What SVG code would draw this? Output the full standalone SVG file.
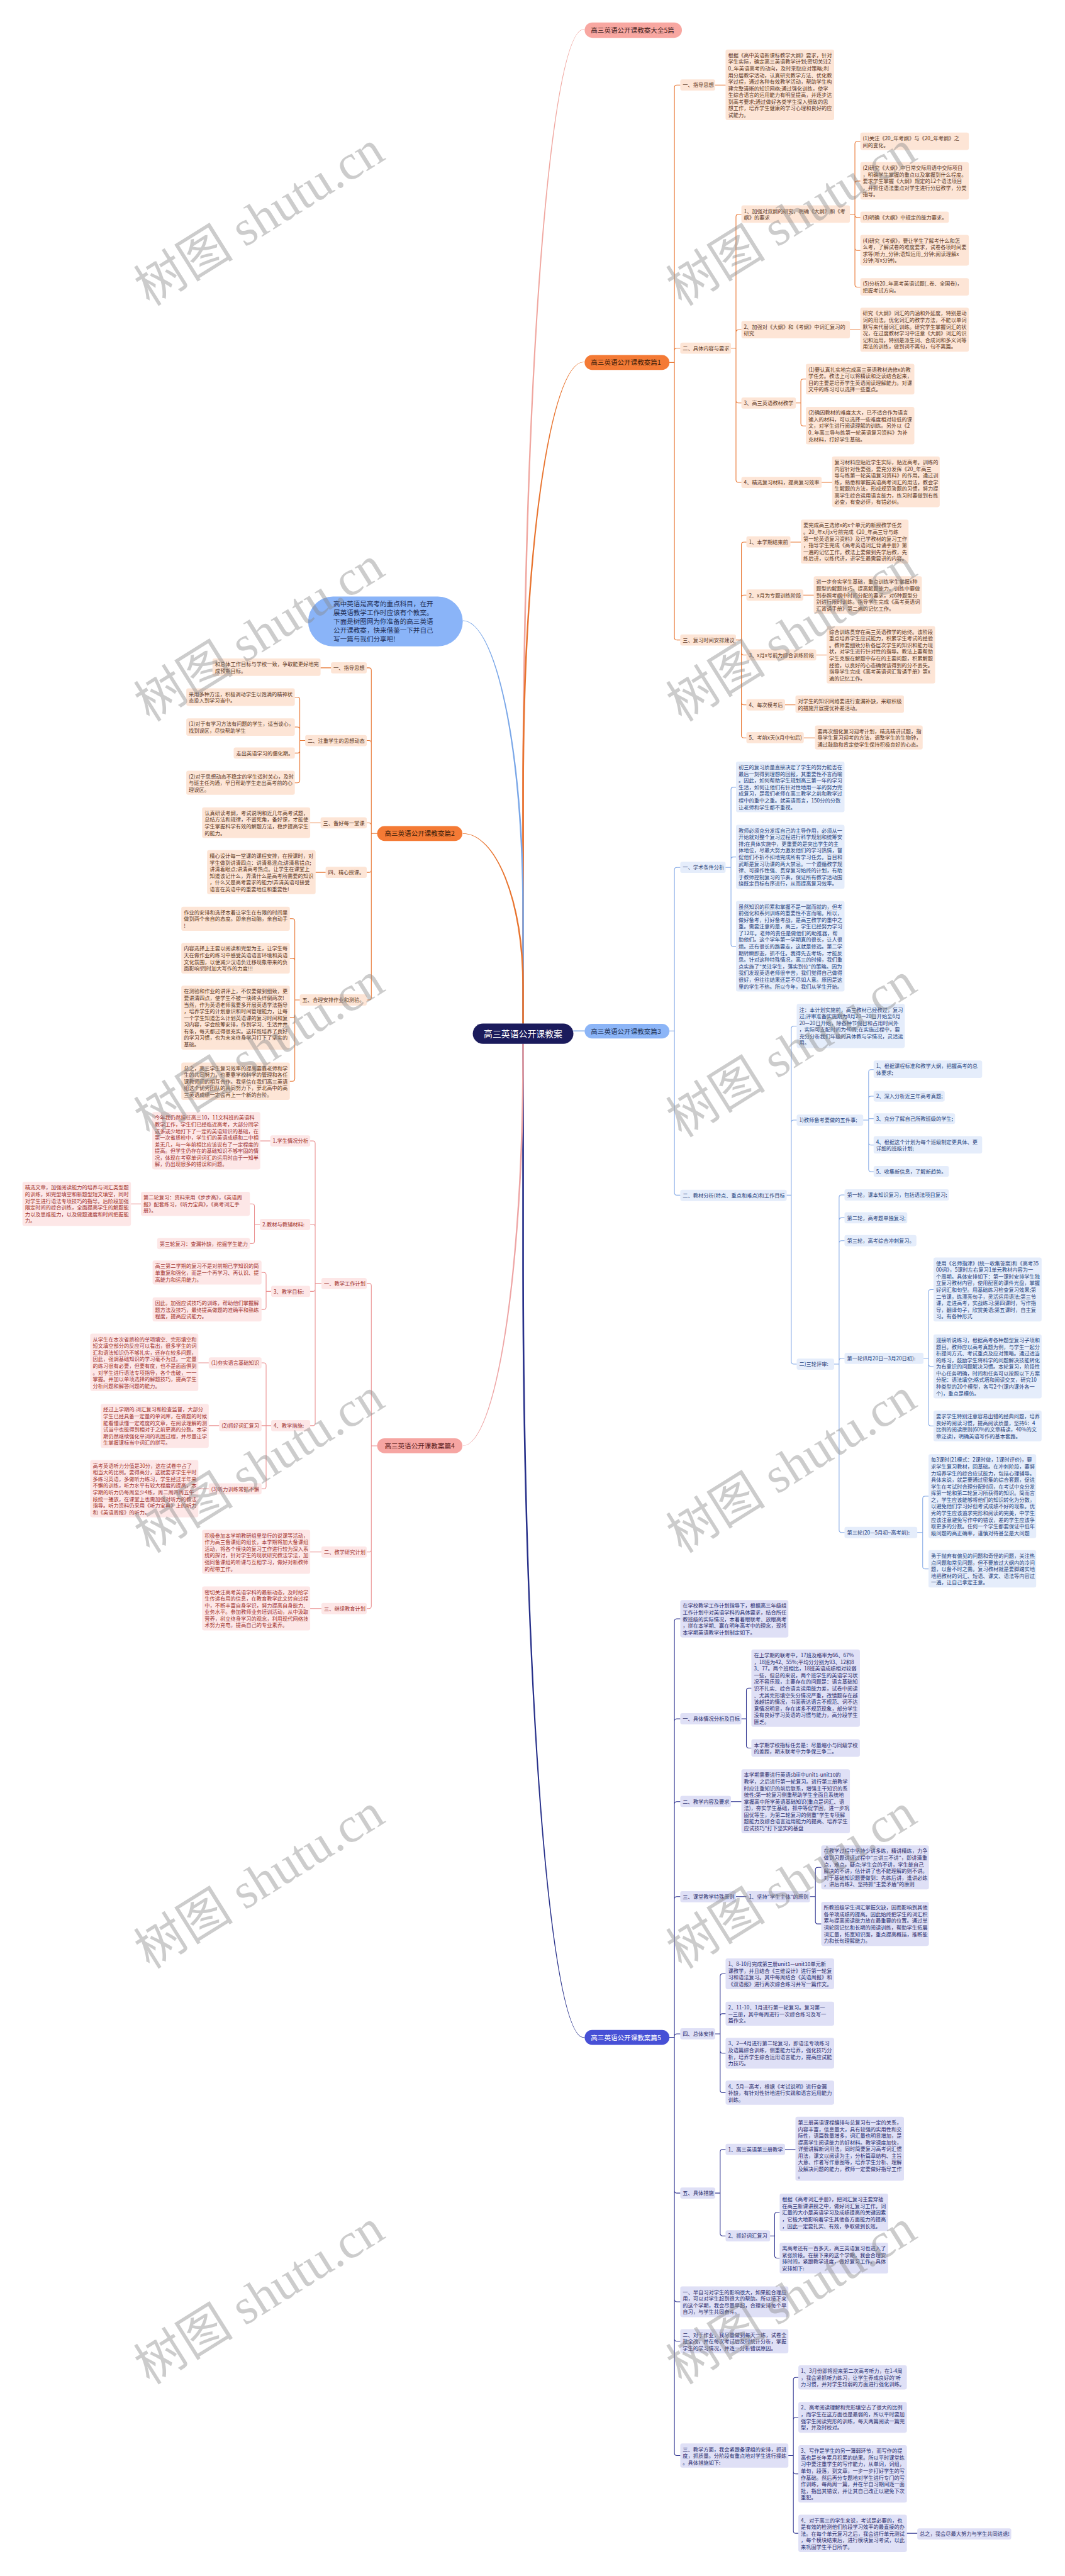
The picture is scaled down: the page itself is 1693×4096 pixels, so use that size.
<svg xmlns="http://www.w3.org/2000/svg" width="1693" height="4096" viewBox="0 0 1693 4096">
<style>
text{font-family:"Noto Sans CJK SC","Noto Sans",sans-serif;font-size:12.5px}
.o rect{fill:#fde5d6}.o text{fill:#5a3522}
.b rect{fill:#e5edfb}.b text{fill:#24407a}
.p rect{fill:#fde7e7}.p text{fill:#a0302c}
.v rect{fill:#dfe0f6}.v text{fill:#262a6b}
.br text{font-size:16px}
.cn path{fill:none;stroke-linecap:round}
.cn path.tp{stroke:none}
.co{stroke:#e8742f;stroke-width:1.6}
.cb{stroke:#84a9e6;stroke-width:1.6}
.cp{stroke:#ea9090;stroke-width:1.6}
.cv{stroke:#2f3491;stroke-width:1.6}
.wm text{font-family:"Liberation Serif","Noto Sans CJK SC",serif;font-size:120px;fill:#888888;opacity:0.42}
</style>
<rect width="1693" height="4096" fill="#ffffff"/>
<g transform="scale(0.661)">
<g id="connectors" class="cn">
<path class="tp" d="M1256 2462V1966A147 1895.5 0 0 1 1403 70.5L1406 70.5L1406 71.5L1403 71.5A143 1894.5 0 0 0 1260 1966V2462Z" style="fill:#f0a7a0"/>
<path class="tp" d="M1256 2462V1900A147 1029.5 0 0 1 1403 870.5L1406 870.5L1406 871.5L1403 871.5A143 1028.5 0 0 0 1260 1900V2462Z" style="fill:#e8742f"/>
<path d="M1379 2480H1406" stroke="#7aa7e8" stroke-width="2"/>
<path class="tp" d="M1256 2511V3027A147 1874.5 0 0 0 1403 4901.5L1406 4901.5L1406 4900.5L1403 4900.5A143 1873.5 0 0 1 1260 3027V2511Z" style="fill:#27308a"/>
<path class="tp" d="M1260 2462V2190A147 697.5 0 0 0 1113 1492.5L1113 1493.5A143 696.5 0 0 1 1256 2190V2462Z" style="fill:#7aa7e8"/>
<path class="tp" d="M1260 2462V2370A147 365.5 0 0 0 1113 2004.5L1113 2005.5A143 364.5 0 0 1 1256 2370V2462Z" style="fill:#e8742f"/>
<path class="tp" d="M1260 2511V2540A147 938.5 0 0 1 1113 3478.5L1113 3477.5A143 937.5 0 0 0 1256 2540V2511Z" style="fill:#eea5a5"/>
<g class="co">
<path d="M1610 872H1622M1622 872V210.5Q1622 204.5 1628 204.5H1636M1622 872V843.5Q1622 837.5 1628 837.5H1636M1622 872V1533.5Q1622 1539.5 1628 1539.5H1636"/>
<path d="M1720 204.5H1745"/>
<path d="M1758 837.5H1770M1770 837.5V521.5Q1770 515.5 1776 515.5H1783M1770 837.5V799.5Q1770 793.5 1776 793.5H1783M1770 837.5V963.5Q1770 969.5 1776 969.5H1783M1770 837.5V1154.5Q1770 1160.5 1776 1160.5H1783"/>
<path d="M2044 515.5H2056M2056 515.5V346.5Q2056 340.5 2062 340.5H2069M2056 515.5V441.5Q2056 435.5 2062 435.5H2069M2056 515.5V517Q2056 523 2062 523H2069M2056 515.5V596.5Q2056 602.5 2062 602.5H2069M2056 515.5V684.5Q2056 690.5 2062 690.5H2069"/>
<path d="M2044 793.5H2069"/>
<path d="M1914 969.5H1926M1926 969.5V918Q1926 912 1932 912H1938M1926 969.5V1018.5Q1926 1024.5 1932 1024.5H1938"/>
<path d="M1976 1160.5H2001"/>
<path d="M1770 1539.5H1783M1783 1539.5V1310Q1783 1304 1789 1304H1795M1783 1539.5V1437.5Q1783 1431.5 1789 1431.5H1795M1783 1539.5V1569.5Q1783 1575.5 1789 1575.5H1795M1783 1539.5V1689.5Q1783 1695.5 1789 1695.5H1795M1783 1539.5V1769Q1783 1775 1789 1775H1795"/>
<path d="M1901 1304H1926M1932 1431.5H1957M1963 1575.5H1988M1888 1695.5H1913M1933 1775H1960"/>
<path d="M907 2005H893M893 2005V1612.5Q893 1606.5 887 1606.5H882M893 2005V1787.5Q893 1781.5 887 1781.5H882M893 2005V1985.5Q893 1979.5 887 1979.5H882M893 2005V2092.5Q893 2098.5 887 2098.5H882M893 2005V2399.5Q893 2405.5 887 2405.5H882"/>
<path d="M796 1606.5H771M771 1979.5H746M783 2098.5H759"/>
<path d="M734 1781.5H721M721 1781.5V1683Q721 1677 715 1677H709M721 1781.5V1755Q721 1749 715 1749H709M721 1781.5V1805.5Q721 1811.5 715 1811.5H709M721 1781.5V1877Q721 1883 715 1883H709"/>
<path d="M721 2405.5H709M709 2405.5V2216Q709 2210 703 2210H697M709 2405.5V2311Q709 2305 703 2305H697M709 2405.5V2442Q709 2448 703 2448H697M709 2405.5V2595Q709 2601 703 2601H697"/>
</g>
<g class="cb">
<path d="M1610 2480H1622M1622 2480V2092.5Q1622 2086.5 1628 2086.5H1636M1622 2480V2869Q1622 2875 1628 2875H1636"/>
<path d="M1745 2086.5H1758M1758 2086.5V1899.5Q1758 1893.5 1764 1893.5H1770M1758 2086.5V2067.5Q1758 2061.5 1764 2061.5H1770M1758 2086.5V2271Q1758 2277 1764 2277H1770"/>
<path d="M1892 2875H1903M1903 2875V2474.5Q1903 2468.5 1909 2468.5H1916M1903 2875V2700.5Q1903 2694.5 1909 2694.5H1916M1903 2875V3275.5Q1903 3281.5 1909 3281.5H1916"/>
<path d="M2076 2694.5H2089M2089 2694.5V2579Q2089 2573 2095 2573H2101M2089 2694.5V2643Q2089 2637 2095 2637H2101M2089 2691H2101M2089 2694.5V2748.5Q2089 2754.5 2095 2754.5H2101M2089 2694.5V2812.5Q2089 2818.5 2095 2818.5H2101"/>
<path d="M2006 3281.5H2018M2018 3281.5V2880.5Q2018 2874.5 2024 2874.5H2031M2018 3281.5V2935.5Q2018 2929.5 2024 2929.5H2031M2018 3281.5V2990.5Q2018 2984.5 2024 2984.5H2031M2018 3281.5V3273.5Q2018 3267.5 2024 3267.5H2031M2018 3281.5V3680.5Q2018 3686.5 2024 3686.5H2031"/>
<path d="M2221 3267.5H2233M2233 3267.5V3108Q2233 3102 2239 3102H2245M2233 3267.5V3281Q2233 3287 2239 3287H2245M2233 3267.5V3424Q2233 3430 2239 3430H2245"/>
<path d="M2206 3686.5H2219M2219 3686.5V3605Q2219 3599 2225 3599H2233M2219 3686.5V3768Q2219 3774 2225 3774H2233"/>
</g>
<g class="cv">
<path d="M1610 4901H1622M1622 4901V3900Q1622 3894 1628 3894H1636M1622 4901V4140.5Q1622 4134.5 1628 4134.5H1636M1622 4901V4340Q1622 4334 1628 4334H1636M1622 4901V4568.5Q1622 4562.5 1628 4562.5H1636M1622 4901V4898.5Q1622 4892.5 1628 4892.5H1636M1622 4901V5269.5Q1622 5275.5 1628 5275.5H1636M1622 4901V5531Q1622 5537 1628 5537H1636M1622 4901V5626Q1622 5632 1628 5632H1636M1622 4901V5901Q1622 5907 1628 5907H1636"/>
<path d="M1783 4134.5H1795M1795 4134.5V4067Q1795 4061 1801 4061H1807M1795 4134.5V4199Q1795 4205 1801 4205H1807"/>
<path d="M1758 4334H1783M1770 4562.5H1795M1888 5170.5H1913M2181 6094H2206"/>
<path d="M1948 4562.5H1961M1961 4562.5V4498Q1961 4492 1967 4492H1975M1961 4562.5V4622Q1961 4628 1967 4628H1975"/>
<path d="M1720 4892.5H1732M1732 4892.5V4754Q1732 4748 1738 4748H1745M1732 4892.5V4850Q1732 4844 1738 4844H1745M1732 4892.5V4933Q1732 4939 1738 4939H1745M1732 4892.5V5028Q1732 5034 1738 5034H1745"/>
<path d="M1720 5275.5H1732M1732 5275.5V5176.5Q1732 5170.5 1738 5170.5H1745M1732 5275.5V5372.5Q1732 5378.5 1738 5378.5H1745"/>
<path d="M1852 5378.5H1863M1863 5378.5V5328Q1863 5322 1869 5322H1875M1863 5378.5V5426Q1863 5432 1869 5432H1875"/>
<path d="M1896 5907H1908M1908 5907V5725Q1908 5719 1914 5719H1920M1908 5907V5821Q1908 5815 1914 5815H1920M1908 5907V5945Q1908 5951 1914 5951H1920M1908 5907V6088Q1908 6094 1914 6094H1920"/>
</g>
<g class="cp">
<path d="M907 3478H893M893 3478V3093Q893 3087 887 3087H882M893 3478V3727.5Q893 3733.5 887 3733.5H882M893 3478V3863.5Q893 3869.5 887 3869.5H882"/>
<path d="M773 3087H758M758 3087V2750.5Q758 2744.5 752 2744.5H746M758 3087V2951.5Q758 2945.5 752 2945.5H746M758 3087V3100.5Q758 3106.5 752 3106.5H746M758 3087V3423.5Q758 3429.5 752 3429.5H746"/>
<path d="M650 2744.5H626M339 2896H315M502 3278.5H477M527 3429.5H502M502 3581.5H477M773 3733.5H746M773 3869.5H746"/>
<path d="M625 2945.5H612M612 2945.5V2902Q612 2896 606 2896H601M612 2945.5V2985.5Q612 2991.5 606 2991.5H601"/>
<path d="M652 3106.5H640M640 3106.5V3067Q640 3061 634 3061H629M640 3106.5V3144Q640 3150 634 3150H629"/>
<path d="M652 3429.5H640M640 3429.5V3284.5Q640 3278.5 634 3278.5H629M640 3429.5H629M640 3429.5V3575.5Q640 3581.5 634 3581.5H629"/>
</g>
</g>

<g id="center"><rect x="1137" y="2462" width="242" height="49" rx="24.5" fill="#1b1b5c"/><text x="1258" y="2494" text-anchor="middle" style="font-size:21px" fill="#ffffff">高三英语公开课教案</text></g>
<g id="intro"><rect x="741" y="1435" width="372" height="120" rx="60" fill="#8ab4f8"/><text style="font-size:16px" fill="#1f2f55"><tspan x="802" y="1458">高中英语是高考的重点科目，在开</tspan><tspan x="802" dy="21.3">展英语教学工作时应该有个教案。</tspan><tspan x="802" dy="21.3">下面是树图网为你准备的高三英语</tspan><tspan x="802" dy="21.3">公开课教案，快来借鉴一下并自己</tspan><tspan x="802" dy="21.3">写一篇与我们分享吧!</tspan></text></g>

<g id="b0" class="br"><rect x="1406" y="54" width="234" height="37" rx="18.5" fill="#f8a7a1"/><text x="1421" y="78.5" fill="#3d1d1d">高三英语公开课教案大全5篇</text></g>
<g id="b1" class="br"><rect x="1406" y="854" width="204" height="36" rx="18" fill="#f47a35"/><text x="1421" y="878" fill="#3b1a08">高三英语公开课教案篇1</text></g>
<g id="b2" class="br"><rect x="907" y="1987" width="205" height="36" rx="18" fill="#f47a35"/><text x="925" y="2011" fill="#3b1a08">高三英语公开课教案篇2</text></g>
<g id="b3" class="br"><rect x="1406" y="2463" width="204" height="35" rx="17.5" fill="#8cb5f7"/><text x="1421" y="2486.5" fill="#1d3358">高三英语公开课教案篇3</text></g>
<g id="b4" class="br"><rect x="907" y="3460" width="205" height="36" rx="18" fill="#f6a5a2"/><text x="925" y="3484" fill="#5a1a1a">高三英语公开课教案篇4</text></g>
<g id="b5" class="br"><rect x="1406" y="4883" width="204" height="36" rx="18" fill="#4750d6"/><text x="1421" y="4907" fill="#ffffff">高三英语公开课教案篇5</text></g>

<g id="p1">
<g id="n1a" class="o"><rect x="1636" y="191" width="84" height="27" rx="5"/><text x="1642" y="209.5">一、指导思想</text></g>
<g id="n1a1" class="o"><rect x="1745" y="119" width="261" height="170" rx="5"/><text><tspan x="1751" y="137.5">根据《高中英语新课标教学大纲》要求，针对</tspan><tspan x="1751" dy="16">学生实际，确定高三英语教学计划;密切关注2</tspan><tspan x="1751" dy="16">0_年英语高考的动向，及时采取应对策略;利</tspan><tspan x="1751" dy="16">用分层教学活动，认真研究教学方法、优化教</tspan><tspan x="1751" dy="16">学过程，通过各种有效教学活动，帮助学生构</tspan><tspan x="1751" dy="16">建完整清晰的知识网络;通过强化训练，使学</tspan><tspan x="1751" dy="16">生综合语言的运用能力有明显提高，并逐步达</tspan><tspan x="1751" dy="16">到高考要求;通过做好各类学生深入细致的思</tspan><tspan x="1751" dy="16">想工作，培养学生健康的学习心理和良好的应</tspan><tspan x="1751" dy="16">试能力。</tspan></text></g>
<g id="n1b" class="o"><rect x="1636" y="824" width="122" height="27" rx="5"/><text x="1642" y="842.5">二、具体内容与要求</text></g>
<g id="n1b1" class="o"><rect x="1783" y="494" width="261" height="42" rx="5"/><text><tspan x="1789" y="512.5">1、加强对双纲的研究，明确《大纲》和《考</tspan><tspan x="1789" dy="16">纲》的要求</tspan></text></g>
<g id="n1b1a" class="o"><rect x="2069" y="319" width="261" height="42" rx="5"/><text><tspan x="2075" y="337.5">(1)关注《20_年考纲》与《20_年考纲》之</tspan><tspan x="2075" dy="16">间的变化。</tspan></text></g>
<g id="n1b1b" class="o"><rect x="2069" y="390" width="261" height="90" rx="5"/><text><tspan x="2075" y="408.5">(2)研究《大纲》中日常交际用语中交际项目</tspan><tspan x="2075" dy="16">，明确学生掌握的重点以及掌握到什么程度。</tspan><tspan x="2075" dy="16">要求学生掌握《大纲》规定的12个语法项目</tspan><tspan x="2075" dy="16">，并抓住语法重点对学生进行分层教学，分类</tspan><tspan x="2075" dy="16">指导。</tspan></text></g>
<g id="n1b1c" class="o"><rect x="2069" y="509" width="213" height="27" rx="5"/><text x="2075" y="527.5">(3)明确《大纲》中规定的能力要求。</text></g>
<g id="n1b1d" class="o"><rect x="2069" y="565" width="261" height="74" rx="5"/><text><tspan x="2075" y="583.5">(4)研究《考纲》，要让学生了解考什么和怎</tspan><tspan x="2075" dy="16">么考，了解试卷的难度要求，试卷各项时间要</tspan><tspan x="2075" dy="16">求等(听力_分钟;语知运用_分钟;阅读理解x</tspan><tspan x="2075" dy="16">分钟;写x分钟)。</tspan></text></g>
<g id="n1b1e" class="o"><rect x="2069" y="669" width="261" height="42" rx="5"/><text><tspan x="2075" y="687.5">(5)分析20_年高考英语试题(_卷、全国卷)，</tspan><tspan x="2075" dy="16">把握考试方向。</tspan></text></g>
<g id="n1b2" class="o"><rect x="1783" y="772" width="261" height="42" rx="5"/><text><tspan x="1789" y="790.5">2、加强对《大纲》和《考纲》中词汇复习的</tspan><tspan x="1789" dy="16">研究</tspan></text></g>
<g id="n1b2a" class="o"><rect x="2069" y="740" width="261" height="106" rx="5"/><text><tspan x="2075" y="758.5">研究《大纲》词汇的内涵和外延度，特别是动</tspan><tspan x="2075" dy="16">词的用法。优化词汇的教学方法，不能以单词</tspan><tspan x="2075" dy="16">默写来代替词汇训练。研究学生掌握词汇的状</tspan><tspan x="2075" dy="16">况，在过度教材学习中注意《大纲》词汇的识</tspan><tspan x="2075" dy="16">记和运用，特别是派生词、合成词和多义词等</tspan><tspan x="2075" dy="16">用法的训练，做到词不离句，句不离篇。</tspan></text></g>
<g id="n1b3" class="o"><rect x="1783" y="956" width="131" height="27" rx="5"/><text x="1789" y="974.5">3、高三英语教材教学</text></g>
<g id="n1b3a" class="o"><rect x="1938" y="875" width="261" height="74" rx="5"/><text><tspan x="1944" y="893.5">(1)要认真扎实地完成高三英语教材选修x的教</tspan><tspan x="1944" dy="16">学任务。教法上可以将精读和泛读结合起来，</tspan><tspan x="1944" dy="16">目的主要是培养学生英语阅读理解能力。对课</tspan><tspan x="1944" dy="16">文中的练习可以选择一些重点。</tspan></text></g>
<g id="n1b3b" class="o"><rect x="1938" y="979" width="261" height="90" rx="5"/><text><tspan x="1944" y="997.5">(2)确因教材的难度太大，已不适合作为语言</tspan><tspan x="1944" dy="16">输入的材料，可以选择一些难度相对较低的课</tspan><tspan x="1944" dy="16">文，对学生进行阅读理解的训练。另外以《2</tspan><tspan x="1944" dy="16">0_年高三导与练第一轮英语复习资料》为补</tspan><tspan x="1944" dy="16">充材料，打好学生基础。</tspan></text></g>
<g id="n1b4" class="o"><rect x="1783" y="1147" width="193" height="27" rx="5"/><text x="1789" y="1165.5">4、精选复习材料，提高复习效率</text></g>
<g id="n1b4a" class="o"><rect x="2001" y="1098" width="259" height="122" rx="5"/><text><tspan x="2007" y="1116.5">复习材料应贴近学生实际，贴近高考。训练的</tspan><tspan x="2007" dy="16">内容针对性要强，要充分发挥《20_年高三</tspan><tspan x="2007" dy="16">导与练第一轮英语复习资料》的作用。通过训</tspan><tspan x="2007" dy="16">练，熟悉和掌握英语高考词汇的用法，教会学</tspan><tspan x="2007" dy="16">生解题的方法，形成规范答题的习惯，努力提</tspan><tspan x="2007" dy="16">高学生综合运用语言能力，练习时要做到有练</tspan><tspan x="2007" dy="16">必查，有查必评，有错必纠。</tspan></text></g>
<g id="n1c" class="o"><rect x="1636" y="1526" width="134" height="27" rx="5"/><text x="1642" y="1544.5">三、复习时间安排建议</text></g>
<g id="n1c1" class="o"><rect x="1795" y="1290" width="106" height="27" rx="5"/><text x="1801" y="1308.5">1、本学期结束前</text></g>
<g id="n1c1a" class="o"><rect x="1926" y="1250" width="259" height="106" rx="5"/><text><tspan x="1932" y="1268.5">要完成高三选修x的x个单元的新授教学任务</tspan><tspan x="1932" dy="16">。20_年x月x号前完成《20_年高三导与练</tspan><tspan x="1932" dy="16">第一轮英语复习资料》及已学教材的复习工作</tspan><tspan x="1932" dy="16">，指导学生完成《高考英语词汇背诵手册》第</tspan><tspan x="1932" dy="16">一遍的记忆工作。教法上要做到先学后教，先</tspan><tspan x="1932" dy="16">练后讲，以练代讲，讲学生最需要讲的内容。</tspan></text></g>
<g id="n1c2" class="o"><rect x="1795" y="1418" width="137" height="27" rx="5"/><text x="1801" y="1436.5">2、x月为专题训练阶段</text></g>
<g id="n1c2a" class="o"><rect x="1957" y="1386" width="260" height="90" rx="5"/><text><tspan x="1963" y="1404.5">进一步夯实学生基础，重点训练学生掌握x种</tspan><tspan x="1963" dy="16">题型的解题技巧，提高解题能力。训练中要做</tspan><tspan x="1963" dy="16">到参照考纲中时间分配的要求，对6种题型分</tspan><tspan x="1963" dy="16">别进行限时训练。指导学生完成《高考英语词</tspan><tspan x="1963" dy="16">汇背诵手册》第二遍的记忆工作。</tspan></text></g>
<g id="n1c3" class="o"><rect x="1795" y="1562" width="168" height="27" rx="5"/><text x="1801" y="1580.5">3、x月x号前为综合训练阶段</text></g>
<g id="n1c3a" class="o"><rect x="1988" y="1506" width="261" height="138" rx="5"/><text><tspan x="1994" y="1524.5">综合训练贯穿在高三英语教学的始终。该阶段</tspan><tspan x="1994" dy="16">重点培养学生应试能力，积累学生考试的经验</tspan><tspan x="1994" dy="16">。教师要细致分析各层次学生的知识和能力现</tspan><tspan x="1994" dy="16">状，对学生进行针对性的指导。教法上要帮助</tspan><tspan x="1994" dy="16">学生克服在解题中存在的主要问题，积累解题</tspan><tspan x="1994" dy="16">经验，以良好的心态确保该得到的分不丢失。</tspan><tspan x="1994" dy="16">指导学生完成《高考英语词汇背诵手册》第x</tspan><tspan x="1994" dy="16">遍的记忆工作。</tspan></text></g>
<g id="n1c4" class="o"><rect x="1795" y="1682" width="93" height="27" rx="5"/><text x="1801" y="1700.5">4、每次模考后</text></g>
<g id="n1c4a" class="o"><rect x="1913" y="1673" width="261" height="42" rx="5"/><text><tspan x="1919" y="1691.5">对学生的知识网络要进行查漏补缺，采取积极</tspan><tspan x="1919" dy="16">的措施开展提优补差活动。</tspan></text></g>
<g id="n1c5" class="o"><rect x="1795" y="1761" width="138" height="27" rx="5"/><text x="1801" y="1779.5">5、考前x天(x月中旬后)</text></g>
<g id="n1c5a" class="o"><rect x="1960" y="1745" width="259" height="58" rx="5"/><text><tspan x="1966" y="1763.5">要再次细化复习迎考计划，精选精讲试题，指</tspan><tspan x="1966" dy="16">导学生复习迎考的方法，调整学生的生物钟，</tspan><tspan x="1966" dy="16">通过鼓励和肯定使学生保持积极良好的心态。</tspan></text></g>
</g>

<g id="p3">
<g id="n3a" class="b"><rect x="1636" y="2073" width="109" height="27" rx="5"/><text x="1642" y="2091.5">一、学术条件分析</text></g>
<g id="n3a1" class="b"><rect x="1770" y="1832" width="261" height="122" rx="5"/><text><tspan x="1776" y="1850.5">初三的复习质量直接决定了学生的努力能否在</tspan><tspan x="1776" dy="16">最后一刻得到理想的回报，其重要性不言而喻</tspan><tspan x="1776" dy="16">。因此，如何帮助学生规划高三第一年的学习</tspan><tspan x="1776" dy="16">生活，如何让他们有针对性地用一半的努力完</tspan><tspan x="1776" dy="16">成复习，是我们老师在高三教学之前和教学过</tspan><tspan x="1776" dy="16">程中的重中之重。就英语而言，150分的分数</tspan><tspan x="1776" dy="16">让老师和学生都不重视。</tspan></text></g>
<g id="n3a2" class="b"><rect x="1770" y="1984" width="261" height="154" rx="5"/><text><tspan x="1776" y="2002.5">教师必须充分发挥自己的主导作用，必须从一</tspan><tspan x="1776" dy="16">开始就对整个复习过程进行科学规划和统筹安</tspan><tspan x="1776" dy="16">排;在具体实施中，更重要的是突出学生的主</tspan><tspan x="1776" dy="16">体地位，尽最大努力激发他们的学习热情，督</tspan><tspan x="1776" dy="16">促他们不折不扣地完成所有学习任务。盲目和</tspan><tspan x="1776" dy="16">武断是复习功课的两大禁忌。一个遵循教学规</tspan><tspan x="1776" dy="16">律、可操作性强、贯穿复习始终的计划，有助</tspan><tspan x="1776" dy="16">于教师控制复习的节奏，保证所有教学活动围</tspan><tspan x="1776" dy="16">绕既定目标有序进行，从而提高复习效率。</tspan></text></g>
<g id="n3a3" class="b"><rect x="1770" y="2167" width="261" height="218" rx="5"/><text><tspan x="1776" y="2185.5">虽然知识的积累和掌握不是一蹴而就的，但考</tspan><tspan x="1776" dy="16">前强化和系列训练的重要性不言而喻。所以，</tspan><tspan x="1776" dy="16">做好备考，打好备考战，是高三教学的重中之</tspan><tspan x="1776" dy="16">重。需要注意的是，高三，学生已经努力学习</tspan><tspan x="1776" dy="16">了12年。老师的责任是做他们的助推器，帮</tspan><tspan x="1776" dy="16">助他们。这个学年第一学期真的很长，让人很</tspan><tspan x="1776" dy="16">烦。还有很长的路要走，这就是修远。第二学</tspan><tspan x="1776" dy="16">期转瞬即逝，抓不住。我得先去考场，才能反</tspan><tspan x="1776" dy="16">思。针对这种特殊情况，高三的时候，我们重</tspan><tspan x="1776" dy="16">点实施了&quot;关注学生，落实到位&quot;的策略。因为</tspan><tspan x="1776" dy="16">我们发现英语老师很辛苦，我们觉得自己做得</tspan><tspan x="1776" dy="16">很好，但往往结果还是不尽如人意。原因是这</tspan><tspan x="1776" dy="16">里的学生不热。所以今年，我们从学生开始。</tspan></text></g>
<g id="n3b" class="b"><rect x="1636" y="2862" width="256" height="27" rx="5"/><text x="1642" y="2880.5">二、教材分析(特点、重点和难点)和工作目标</text></g>
<g id="n3b1" class="b"><rect x="1916" y="2415" width="260" height="106" rx="5"/><text><tspan x="1922" y="2433.5">注：本计划实施前，高三教材已经教过，复习</tspan><tspan x="1922" dy="16">过;评审准备实施期为8月20—20日开始至6月</tspan><tspan x="1922" dy="16">20—20日开始，除各种节假日和占用时间外</tspan><tspan x="1922" dy="16">，实际可支配时间为40周;在实施过程中，要</tspan><tspan x="1922" dy="16">充分分析我们年级的具体教与学情况，灵活运</tspan><tspan x="1922" dy="16">用。</tspan></text></g>
<g id="n3b2" class="b"><rect x="1916" y="2681" width="160" height="27" rx="5"/><text x="1922" y="2699.5">1)教师备考要做的五件事;</text></g>
<g id="n3b2a" class="b"><rect x="2101" y="2551" width="261" height="42" rx="5"/><text><tspan x="2107" y="2569.5">1、根据课程标准和教学大纲，把握高考的总</tspan><tspan x="2107" dy="16">体要求;</tspan></text></g>
<g id="n3b2b" class="b"><rect x="2101" y="2624" width="171" height="26" rx="5"/><text x="2107" y="2642">2、深入分析近三年高考真题;</text></g>
<g id="n3b2c" class="b"><rect x="2101" y="2678" width="196" height="26" rx="5"/><text x="2107" y="2696">3、充分了解自己所教班级的学生;</text></g>
<g id="n3b2d" class="b"><rect x="2101" y="2733" width="261" height="42" rx="5"/><text><tspan x="2107" y="2751.5">4、根据这个计划为每个班级制定更具体、更</tspan><tspan x="2107" dy="16">详细的班级计划;</tspan></text></g>
<g id="n3b2e" class="b"><rect x="2101" y="2805" width="181" height="26" rx="5"/><text x="2107" y="2823">5、收集新信息，了解新趋势。</text></g>
<g id="n3b3" class="b"><rect x="1916" y="3268" width="90" height="27" rx="5"/><text x="1922" y="3286.5">二)三轮评审:</text></g>
<g id="n3b3a" class="b"><rect x="2031" y="2861" width="251" height="27" rx="5"/><text x="2037" y="2879.5">第一轮，课本知识复习，包括语法项目复习;</text></g>
<g id="n3b3b" class="b"><rect x="2031" y="2916" width="151" height="27" rx="5"/><text x="2037" y="2934.5">第二轮，高考题单独复习;</text></g>
<g id="n3b3c" class="b"><rect x="2031" y="2971" width="173" height="27" rx="5"/><text x="2037" y="2989.5">第三轮，高考综合冲刺复习。</text></g>
<g id="n3b3d" class="b"><rect x="2031" y="3254" width="190" height="27" rx="5"/><text x="2037" y="3272.5">第一轮(8月20日—3月20日初):</text></g>
<g id="n3b3d1" class="b"><rect x="2245" y="3025" width="260" height="154" rx="5"/><text><tspan x="2251" y="3043.5">使用《名师指津》(统一收集答案)和《高考35</tspan><tspan x="2251" dy="16">00词》，5课时左右复习1单元教材内容为一</tspan><tspan x="2251" dy="16">个周期。具体安排如下：第一课时安排学生独</tspan><tspan x="2251" dy="16">立复习教材内容，使用配套的课件光盘，掌握</tspan><tspan x="2251" dy="16">好词汇和句型。用基础练习检查复习效果;第</tspan><tspan x="2251" dy="16">二节课，练漂亮句子，灵活运用语法;第三节</tspan><tspan x="2251" dy="16">课，走进高考，实战练习;第四课时，写作指</tspan><tspan x="2251" dy="16">导，翻译句子，欣赏美语;第五课时，自主复</tspan><tspan x="2251" dy="16">习。有各种形式</tspan></text></g>
<g id="n3b3d2" class="b"><rect x="2245" y="3210" width="260" height="154" rx="5"/><text><tspan x="2251" y="3228.5">迎接听说练习，根据高考各种题型复习子项和</tspan><tspan x="2251" dy="16">题目。教师应以高考真题为例，与学生一起分</tspan><tspan x="2251" dy="16">析提问方式、考试重点及应对策略。通过适当</tspan><tspan x="2251" dy="16">的练习，鼓励学生将科学的问题解决技能转化</tspan><tspan x="2251" dy="16">为有意识的问题解决习惯。本轮复习，阶段性</tspan><tspan x="2251" dy="16">中心任务明确，时间和任务可以按照以下方案</tspan><tspan x="2251" dy="16">分配：语法填空;格式塔和阅读交叉，研究10</tspan><tspan x="2251" dy="16">种类型的20个模型，各写2个(课内课外各一</tspan><tspan x="2251" dy="16">个)，重点是模仿。</tspan></text></g>
<g id="n3b3d3" class="b"><rect x="2245" y="3393" width="260" height="74" rx="5"/><text><tspan x="2251" y="3411.5">要求学生特别注意容易出错的经典问题，培养</tspan><tspan x="2251" dy="16">良好的阅读习惯，提高阅读质量，坚持6：4</tspan><tspan x="2251" dy="16">比例的阅读原则(60%的文章精读，40%的文</tspan><tspan x="2251" dy="16">章泛读)，明确英语写作的基本套路。</tspan></text></g>
<g id="n3b3e" class="b"><rect x="2031" y="3673" width="175" height="27" rx="5"/><text x="2037" y="3691.5">第三轮(20—5月初~高考前):</text></g>
<g id="n3b3e1" class="b"><rect x="2233" y="3498" width="259" height="202" rx="5"/><text><tspan x="2239" y="3516.5">每3课时(21模式：2课时做，1课时评价)，要</tspan><tspan x="2239" dy="16">求学生复习教材，回基础。在冲刺阶段，要努</tspan><tspan x="2239" dy="16">力培养学生的综合应试能力，包括心理辅导。</tspan><tspan x="2239" dy="16">具体来说，就是要通过密集的综合套题，促进</tspan><tspan x="2239" dy="16">学生在考试时合理分配时间，在考试中充分发</tspan><tspan x="2239" dy="16">挥第一轮和第二轮复习所获得的知识。简而言</tspan><tspan x="2239" dy="16">之，学生应该能够将他们的知识转化为分数，</tspan><tspan x="2239" dy="16">以避免他们学习好但考试成绩不好的现象。优</tspan><tspan x="2239" dy="16">秀的学生应该追求完形和阅读的完美，中学生</tspan><tspan x="2239" dy="16">应该注意避免写作中的错误，差的学生应该争</tspan><tspan x="2239" dy="16">取更多的分数。任何一个学生都要保证中低年</tspan><tspan x="2239" dy="16">级问题的高正确率，谨慎对待甚至是大问题</tspan></text></g>
<g id="n3b3e2" class="b"><rect x="2233" y="3729" width="259" height="90" rx="5"/><text><tspan x="2239" y="3747.5">勇于抛弃有偏见的问题和奇怪的问题，关注热</tspan><tspan x="2239" dy="16">点问题和常见问题，但不要放过大纲内的冷问</tspan><tspan x="2239" dy="16">题，以备不时之需。复习教材就是要脚踏实地</tspan><tspan x="2239" dy="16">地把教材的词汇、短语、课文、语法等内容过</tspan><tspan x="2239" dy="16">一遍，让自己拿定主意。</tspan></text></g>
</g>

<g id="p5">
<g id="n5a" class="v"><rect x="1636" y="3849" width="260" height="90" rx="5"/><text><tspan x="1642" y="3867.5">在学校教学工作计划指导下，根据高三年级组</tspan><tspan x="1642" dy="16">工作计划中对英语学科的具体要求，结合所任</tspan><tspan x="1642" dy="16">教班级的实际情况，本着着眼联考、放眼高考</tspan><tspan x="1642" dy="16">，拼在本学期、赢在明年高考中的理念，现将</tspan><tspan x="1642" dy="16">本学期英语教学计划制定如下。</tspan></text></g>
<g id="n5b" class="v"><rect x="1636" y="4121" width="147" height="27" rx="5"/><text x="1642" y="4139.5">一、具体情况分析及目标</text></g>
<g id="n5b1" class="v"><rect x="1807" y="3968" width="261" height="186" rx="5"/><text><tspan x="1813" y="3986.5">在上学期的联考中，17班及格率为66、67%</tspan><tspan x="1813" dy="16">，18班为42、55%;平均分分别为93、12和8</tspan><tspan x="1813" dy="16">3、77。两个班相比，18班英语成绩相对较弱</tspan><tspan x="1813" dy="16">一些，但总的来说，两个班学生的英语学习状</tspan><tspan x="1813" dy="16">况不容乐观，主要存在的问题是：语言基础知</tspan><tspan x="1813" dy="16">识不扎实、综合语言运用能力差，试卷中阅读</tspan><tspan x="1813" dy="16">、尤其完形填空失分情况严重，改错题存在越</tspan><tspan x="1813" dy="16">该越错的情况，书面表达语言不规范、词不达</tspan><tspan x="1813" dy="16">意情况明显，存在诸多不规范现象，部分学生</tspan><tspan x="1813" dy="16">没有良好学习英语的习惯与能力，高分段学生</tspan><tspan x="1813" dy="16">匮乏。</tspan></text></g>
<g id="n5b2" class="v"><rect x="1807" y="4184" width="261" height="42" rx="5"/><text><tspan x="1813" y="4202.5">本学期学校指标任务是：尽量缩小与同级学校</tspan><tspan x="1813" dy="16">的差距，期末联考中力争保三争二。</tspan></text></g>
<g id="n5c" class="v"><rect x="1636" y="4320" width="122" height="27" rx="5"/><text x="1642" y="4338.5">二、教学内容及要求</text></g>
<g id="n5c1" class="v"><rect x="1783" y="4256" width="261" height="154" rx="5"/><text><tspan x="1789" y="4274.5">本学期需要进行英语sbiii中unit1-unit10的</tspan><tspan x="1789" dy="16">教学，之后进行第一轮复习。进行第三册教学</tspan><tspan x="1789" dy="16">时应注重知识的前后联系，增强主干知识的系</tspan><tspan x="1789" dy="16">统性;第一轮复习侧重帮助学生全面且系统地</tspan><tspan x="1789" dy="16">掌握高中所学英语基础知识(重点是词汇、语</tspan><tspan x="1789" dy="16">法)，夯实学生基础，抓中等促学困，进一步巩</tspan><tspan x="1789" dy="16">固优等生，为第二轮复习的侧重&quot;学生专项解</tspan><tspan x="1789" dy="16">题能力及综合语言运用能力的提高、培养学生</tspan><tspan x="1789" dy="16">应试技巧&quot;打下坚实的基盘</tspan></text></g>
<g id="n5d" class="v"><rect x="1636" y="4549" width="134" height="27" rx="5"/><text x="1642" y="4567.5">三、课堂教学特殊原则</text></g>
<g id="n5d1" class="v"><rect x="1795" y="4549" width="153" height="27" rx="5"/><text x="1801" y="4567.5">1、坚持&quot;学生主体&quot;的原则</text></g>
<g id="n5d1a" class="v"><rect x="1975" y="4439" width="259" height="106" rx="5"/><text><tspan x="1981" y="4457.5">在教学过程中坚持少讲多练，精讲精练，力争</tspan><tspan x="1981" dy="16">做到习题讲评过程中&quot;三讲三不讲&quot;，即讲清重</tspan><tspan x="1981" dy="16">点，难点，疑点;学生会的不讲，学生能自己</tspan><tspan x="1981" dy="16">解决的不讲，估计讲了也不能理解的则不讲。</tspan><tspan x="1981" dy="16">对于基础知识题要做到：先练后讲，逢讲必练</tspan><tspan x="1981" dy="16">，讲后再练2、坚持抓&quot;主要矛盾&quot;的原则</tspan></text></g>
<g id="n5d1b" class="v"><rect x="1975" y="4575" width="259" height="106" rx="5"/><text><tspan x="1981" y="4593.5">所教班级学生词汇掌握欠缺，因而影响到其他</tspan><tspan x="1981" dy="16">各单项成绩的提高。因此始终把学生的词汇积</tspan><tspan x="1981" dy="16">累与提高阅读能力放在最重要的位置。通过单</tspan><tspan x="1981" dy="16">词轮回记忆和长期的阅读训练，帮助学生拓展</tspan><tspan x="1981" dy="16">词汇量，拓宽知识面，重点提高概括，推断能</tspan><tspan x="1981" dy="16">力和长句理解能力。</tspan></text></g>
<g id="n5e" class="v"><rect x="1636" y="4879" width="84" height="27" rx="5"/><text x="1642" y="4897.5">四、总体安排</text></g>
<g id="n5e1" class="v"><rect x="1745" y="4711" width="261" height="74" rx="5"/><text><tspan x="1751" y="4729.5">1、8-10月完成第三册unit1—unit10单元新</tspan><tspan x="1751" dy="16">课教学，并且结合《三维设计》进行第一轮复</tspan><tspan x="1751" dy="16">习和语法复习。其中每周结合《英语周报》和</tspan><tspan x="1751" dy="16">《双语报》进行两次综合练习并写一篇作文。</tspan></text></g>
<g id="n5e2" class="v"><rect x="1745" y="4815" width="261" height="58" rx="5"/><text><tspan x="1751" y="4833.5">2、11-10、1月进行第一轮复习。复习第一</tspan><tspan x="1751" dy="16">—三册，其中每周进行一次综合练习及写一</tspan><tspan x="1751" dy="16">篇作文。</tspan></text></g>
<g id="n5e3" class="v"><rect x="1745" y="4902" width="261" height="74" rx="5"/><text><tspan x="1751" y="4920.5">3、2—4月进行第二轮复习，即语法专项练习</tspan><tspan x="1751" dy="16">及语篇综合训练，侧重能力培养，强化技巧分</tspan><tspan x="1751" dy="16">析，培养学生综合运用语言能力，提高应试能</tspan><tspan x="1751" dy="16">力技巧。</tspan></text></g>
<g id="n5e4" class="v"><rect x="1745" y="5005" width="261" height="58" rx="5"/><text><tspan x="1751" y="5023.5">4、5月—高考，根据《考试说明》进行查漏</tspan><tspan x="1751" dy="16">补缺，有针对性针地进行实践和语言运用能力</tspan><tspan x="1751" dy="16">训练。</tspan></text></g>
<g id="n5f" class="v"><rect x="1636" y="5262" width="84" height="27" rx="5"/><text x="1642" y="5280.5">五、具体措施</text></g>
<g id="n5f1" class="v"><rect x="1745" y="5157" width="143" height="27" rx="5"/><text x="1751" y="5175.5">1、高三英语第三册教学</text></g>
<g id="n5f1a" class="v"><rect x="1913" y="5092" width="261" height="154" rx="5"/><text><tspan x="1919" y="5110.5">第三册英语课程编排与总复习有一定的关系，</tspan><tspan x="1919" dy="16">内容丰富，信息量大，具有较强的实用性和交</tspan><tspan x="1919" dy="16">际性，语篇数量增多，词汇量也明显增加，是</tspan><tspan x="1919" dy="16">提高学生阅读能力的好材料。教学速度加快，</tspan><tspan x="1919" dy="16">详细讲解新词用法，同时简要复习高考词汇惯</tspan><tspan x="1919" dy="16">用法，课文以阅读为主，分析篇章结构、主旨</tspan><tspan x="1919" dy="16">大意、作者写作意图等，培养学生分析、理解</tspan><tspan x="1919" dy="16">及解决问题的能力，教师一定要做好指导工作</tspan><tspan x="1919" dy="16">。</tspan></text></g>
<g id="n5f2" class="v"><rect x="1745" y="5365" width="107" height="27" rx="5"/><text x="1751" y="5383.5">2、抓好词汇复习</text></g>
<g id="n5f2a" class="v"><rect x="1875" y="5277" width="261" height="90" rx="5"/><text><tspan x="1881" y="5295.5">根据《高考词汇手册》，把词汇复习主要穿插</tspan><tspan x="1881" dy="16">在高三新课讲授之中，做好词汇复习工作。词</tspan><tspan x="1881" dy="16">汇量的大小是英语学习及成绩提高的关键因素</tspan><tspan x="1881" dy="16">，它极大地影响着学生其他各方面能力的提高</tspan><tspan x="1881" dy="16">，因此一定要扎实、有效，争取做到长效。</tspan></text></g>
<g id="n5f2b" class="v"><rect x="1875" y="5395" width="261" height="74" rx="5"/><text><tspan x="1881" y="5413.5">离高考还有一百多天，高三英语复习也进入了</tspan><tspan x="1881" dy="16">紧张阶段。在接下来的这个学期，我会合理安</tspan><tspan x="1881" dy="16">排时间，紧跟教学进度，做好复习工作。具体</tspan><tspan x="1881" dy="16">安排如下:</tspan></text></g>
<g id="n5g" class="v"><rect x="1636" y="5500" width="260" height="74" rx="5"/><text><tspan x="1642" y="5518.5">一、早自习对学生的影响很大，如果能合理应</tspan><tspan x="1642" dy="16">用，可以对学生起到很大的帮助。所以接下来</tspan><tspan x="1642" dy="16">的这个学期，我会尽量早起，合理安排每个早</tspan><tspan x="1642" dy="16">自习，与学生共同奋斗。</tspan></text></g>
<g id="n5h" class="v"><rect x="1636" y="5603" width="260" height="58" rx="5"/><text><tspan x="1642" y="5621.5">二、对于作业，我尽量做到每天一练，试卷全</tspan><tspan x="1642" dy="16">批全改，并在每次考试后及时统计分析，掌握</tspan><tspan x="1642" dy="16">学生的学习情况，并逐一分析错误原因。</tspan></text></g>
<g id="n5i" class="v"><rect x="1636" y="5878" width="260" height="58" rx="5"/><text><tspan x="1642" y="5896.5">三、教学方面，我会紧跟备课组的安排，抓进</tspan><tspan x="1642" dy="16">度，抓质量。分阶段有重点地对学生进行操练</tspan><tspan x="1642" dy="16">。具体措施如下:</tspan></text></g>
<g id="n5i1" class="v"><rect x="1920" y="5690" width="261" height="58" rx="5"/><text><tspan x="1926" y="5708.5">1、3月份即将迎来第二次高考听力，在1-4周</tspan><tspan x="1926" dy="16">，我会紧抓听力练习，让学生养成良好的'听</tspan><tspan x="1926" dy="16">力习惯，并对学生较弱的方面进行强化训练。</tspan></text></g>
<g id="n5i2" class="v"><rect x="1920" y="5778" width="261" height="74" rx="5"/><text><tspan x="1926" y="5796.5">2、高考阅读理解和完形填空占了很大的比例</tspan><tspan x="1926" dy="16">，而学生在这方面也是最弱的，所以平时要加</tspan><tspan x="1926" dy="16">强学生阅读完形的训练，每天两篇阅读一篇完</tspan><tspan x="1926" dy="16">型，并及时校对。</tspan></text></g>
<g id="n5i3" class="v"><rect x="1920" y="5882" width="261" height="138" rx="5"/><text><tspan x="1926" y="5900.5">3、写作是学生的另一薄弱环节，而写作的提</tspan><tspan x="1926" dy="16">高也是长年累月积累的结果。所以平时课堂练</tspan><tspan x="1926" dy="16">习中要注重学生的写作能力，从单词，词组，</tspan><tspan x="1926" dy="16">单句，段落，到文章，一步一步打好学生的写</tspan><tspan x="1926" dy="16">作基础。然后再分专题地对学生进行专门的写</tspan><tspan x="1926" dy="16">作训练，每两周一篇，并在早自习期间逐一面</tspan><tspan x="1926" dy="16">批，指出其错误，并让其自己改正以避免下次</tspan><tspan x="1926" dy="16">重犯。</tspan></text></g>
<g id="n5i4" class="v"><rect x="1920" y="6049" width="261" height="90" rx="5"/><text><tspan x="1926" y="6067.5">4、对于高三的学生来说，考试是必要的，也</tspan><tspan x="1926" dy="16">是有效的检测他们阶段学习效率的最直接的办</tspan><tspan x="1926" dy="16">法。在每个单元复习之后，我会进行单元测试</tspan><tspan x="1926" dy="16">，每个模块结束后，进行模块复习考试，以此</tspan><tspan x="1926" dy="16">来巩固学生平日所学。</tspan></text></g>
<g id="n5i4a" class="v"><rect x="2206" y="6082" width="226" height="27" rx="5"/><text x="2212" y="6100.5">总之，我会尽最大努力与学生共同进退!</text></g>
</g>

<g id="p2">
<g id="n2a" class="o"><rect x="796" y="1593" width="86" height="27" rx="5"/><text x="802" y="1611.5">一、指导思想</text></g>
<g id="n2a1" class="o"><rect x="511" y="1584" width="260" height="42" rx="5"/><text><tspan x="517" y="1602.5">和总体工作目标与学校一致，争取能更好地完</tspan><tspan x="517" dy="16">成预期目标。</tspan></text></g>
<g id="n2b" class="o"><rect x="734" y="1768" width="148" height="27" rx="5"/><text x="740" y="1786.5">二、注重学生的思想动态</text></g>
<g id="n2b1" class="o"><rect x="448" y="1656" width="261" height="42" rx="5"/><text><tspan x="454" y="1674.5">采用多种方法，积极调动学生以饱满的精神状</tspan><tspan x="454" dy="16">态投入到学习当中。</tspan></text></g>
<g id="n2b2" class="o"><rect x="448" y="1728" width="261" height="42" rx="5"/><text><tspan x="454" y="1746.5">(1)对于有学习方法有问题的学生，适当谈心，</tspan><tspan x="454" dy="16">找到误区，尽快帮助学生</tspan></text></g>
<g id="n2b3" class="o"><rect x="562" y="1798" width="147" height="27" rx="5"/><text x="568" y="1816.5">走出英语学习的僵化期。</text></g>
<g id="n2b4" class="o"><rect x="448" y="1854" width="261" height="58" rx="5"/><text><tspan x="454" y="1872.5">(2)对于思想动态不稳定的学生适时关心，及时</tspan><tspan x="454" dy="16">与班主任沟通，早日帮助学生走出高考前的心</tspan><tspan x="454" dy="16">理误区。</tspan></text></g>
<g id="n2c" class="o"><rect x="771" y="1966" width="111" height="27" rx="5"/><text x="777" y="1984.5">三、备好每一堂课</text></g>
<g id="n2c1" class="o"><rect x="486" y="1942" width="260" height="74" rx="5"/><text><tspan x="492" y="1960.5">认真研读考纲，考试说明和近几年高考试题，</tspan><tspan x="492" dy="16">总结方法和规律，不留死角，备好课，才能使</tspan><tspan x="492" dy="16">学生掌握科学有效的解题方法，稳步提高学生</tspan><tspan x="492" dy="16">的能力。</tspan></text></g>
<g id="n2d" class="o"><rect x="783" y="2085" width="99" height="27" rx="5"/><text x="789" y="2103.5">四、精心授课。</text></g>
<g id="n2d1" class="o"><rect x="498" y="2045" width="261" height="106" rx="5"/><text><tspan x="504" y="2063.5">精心设计每一堂课的课程安排，在授课时，对</tspan><tspan x="504" dy="16">学生做到讲清四点：讲清易混点;讲清易错点;</tspan><tspan x="504" dy="16">讲清着眼点;讲清高考热点。让学生在课堂上</tspan><tspan x="504" dy="16">知道该记什么，弄清什么是高考所需要的知识</tspan><tspan x="504" dy="16">，什么又是高考要求的能力!弄清英语可接受</tspan><tspan x="504" dy="16">语言在英语中的重要地位和重要性!</tspan></text></g>
<g id="n2e" class="o"><rect x="721" y="2392" width="161" height="27" rx="5"/><text x="727" y="2410.5">五、合理安排作业和测验。</text></g>
<g id="n2e1" class="o"><rect x="436" y="2181" width="261" height="58" rx="5"/><text><tspan x="442" y="2199.5">作业的安排和选择本着让学生在有限的时间里</tspan><tspan x="442" dy="16">做到两个亲自的态度。即亲自动脑，亲自动手</tspan><tspan x="442" dy="16">!</tspan></text></g>
<g id="n2e2" class="o"><rect x="436" y="2268" width="261" height="74" rx="5"/><text><tspan x="442" y="2286.5">内容选择上主要以阅读和完型为主，让学生每</tspan><tspan x="442" dy="16">天在做作业的练习中感受英语语言环境和英语</tspan><tspan x="442" dy="16">文化氛围，以便减少汉语负迁移现象带来的负</tspan><tspan x="442" dy="16">面影响!同时加大写作的力度!!!</tspan></text></g>
<g id="n2e3" class="o"><rect x="436" y="2371" width="261" height="154" rx="5"/><text><tspan x="442" y="2389.5">在测验和作业的讲评上，不仅要做到细致，更</tspan><tspan x="442" dy="16">要讲清四点，使学生不被一块砖头绊倒两次!</tspan><tspan x="442" dy="16">当然，作为英语老师我要多开展英语学法指导</tspan><tspan x="442" dy="16">，培养学生的计划意识和时间管理能力，让每</tspan><tspan x="442" dy="16">一个学生知道怎么计划英语课的复习时间和复</tspan><tspan x="442" dy="16">习内容，学会统筹安排，作到学习、生活井井</tspan><tspan x="442" dy="16">有条，每天都过得很充实。这样既培养了良好</tspan><tspan x="442" dy="16">的学习习惯，也为未来终身学习打下了坚实的</tspan><tspan x="442" dy="16">基础。</tspan></text></g>
<g id="n2e4" class="o"><rect x="436" y="2556" width="261" height="90" rx="5"/><text><tspan x="442" y="2574.5">总之，高三学生复习效率的提高要靠老师和学</tspan><tspan x="442" dy="16">生的共同努力，也要靠学校科学的管理和各任</tspan><tspan x="442" dy="16">课教师间的相互合作。我坚信在我们高三英语</tspan><tspan x="442" dy="16">组这个优秀团队的共同努力下，萝北高中的高</tspan><tspan x="442" dy="16">三英语成绩一定会再上一个新的台阶。</tspan></text></g>
</g>

<g id="p4">
<g id="n4a" class="p"><rect x="773" y="3074" width="109" height="27" rx="5"/><text x="779" y="3092.5">一、教学工作计划</text></g>
<g id="n4a1" class="p"><rect x="650" y="2731" width="96" height="27" rx="5"/><text x="656" y="2749.5">1.学生情况分析</text></g>
<g id="n4a1a" class="p"><rect x="366" y="2675" width="260" height="138" rx="5"/><text><tspan x="372" y="2693.5">今年我仍然担任高三10，11文科班的英语科</tspan><tspan x="372" dy="16">教学工作，学生们已经临近高考，大部分同学</tspan><tspan x="372" dy="16">或多或少地打下了一定的英语知识的基础，在</tspan><tspan x="372" dy="16">第一次省质检中，学生们的英语成绩和二中相</tspan><tspan x="372" dy="16">差无几，与一年前相比应该说有了一定程度的</tspan><tspan x="372" dy="16">提高。但学生仍存在的基础知识不够牢固的情</tspan><tspan x="372" dy="16">况，体现在考察单词词汇的运用时由于一知半</tspan><tspan x="372" dy="16">解，仍出现很多的错误和问题。</tspan></text></g>
<g id="n4a2" class="p"><rect x="625" y="2932" width="121" height="27" rx="5"/><text x="631" y="2950.5">2.教材与教辅材料:</text></g>
<g id="n4a2a" class="p"><rect x="339" y="2867" width="262" height="58" rx="5"/><text><tspan x="345" y="2885.5">第二轮复习：资料采用《步步高》，《英语周</tspan><tspan x="345" dy="16">报》配套练习，《听力宝典》，《高考词汇手</tspan><tspan x="345" dy="16">册》。</tspan></text></g>
<g id="n4a2a1" class="p"><rect x="54" y="2843" width="261" height="106" rx="5"/><text><tspan x="60" y="2861.5">精选文章，加强阅读能力的培养与词汇类型题</tspan><tspan x="60" dy="16">的训练，如完型填空和新题型短文填空，同时</tspan><tspan x="60" dy="16">对学生进行语法专项技巧的指导。后阶段加强</tspan><tspan x="60" dy="16">限定时间的综合训练，全面提高学生的解题能</tspan><tspan x="60" dy="16">力以及思维能力，以及做题速度和时间把握能</tspan><tspan x="60" dy="16">力。</tspan></text></g>
<g id="n4a2b" class="p"><rect x="378" y="2978" width="223" height="27" rx="5"/><text x="384" y="2996.5">第三轮复习：查漏补缺，挖掘学生能力</text></g>
<g id="n4a3" class="p"><rect x="652" y="3093" width="94" height="27" rx="5"/><text x="658" y="3111.5">3、教学目标:</text></g>
<g id="n4a3a" class="p"><rect x="367" y="3032" width="262" height="58" rx="5"/><text><tspan x="373" y="3050.5">高三第二学期的复习不是对前期已学知识的简</tspan><tspan x="373" dy="16">单重复和强化，而是一个再学习、再认识、提</tspan><tspan x="373" dy="16">高能力和运用能力。</tspan></text></g>
<g id="n4a3b" class="p"><rect x="367" y="3121" width="262" height="58" rx="5"/><text><tspan x="373" y="3139.5">因此，加强应试技巧的训练，帮助他们掌握解</tspan><tspan x="373" dy="16">题方法及技巧，最终提高做题的准确率和熟练</tspan><tspan x="373" dy="16">程度，提高应试能力。</tspan></text></g>
<g id="n4a4" class="p"><rect x="652" y="3416" width="94" height="27" rx="5"/><text x="658" y="3434.5">4、教学措施:</text></g>
<g id="n4a4a" class="p"><rect x="502" y="3265" width="127" height="27" rx="5"/><text x="508" y="3283.5">(1)夯实语言基础知识</text></g>
<g id="n4a4a1" class="p"><rect x="217" y="3208" width="260" height="138" rx="5"/><text><tspan x="223" y="3226.5">从学生在本次省质检的单项填空、完形填空和</tspan><tspan x="223" dy="16">短文填空部分的反应可以看出，很多学生的词</tspan><tspan x="223" dy="16">汇和语法知识仍不够扎实，还存在较多问题，</tspan><tspan x="223" dy="16">因此，强调基础知识的学习毫不为过。一定量</tspan><tspan x="223" dy="16">的练习很有必要，但要有度，也不是面面俱到</tspan><tspan x="223" dy="16">。对学生进行语法专项指导，各个击破，一一</tspan><tspan x="223" dy="16">掌握。并加以单项选择的解题技巧，提高学生</tspan><tspan x="223" dy="16">分析问题和解答问题的能力。</tspan></text></g>
<g id="n4a4b" class="p"><rect x="527" y="3416" width="102" height="27" rx="5"/><text x="533" y="3434.5">(2)抓好词汇复习</text></g>
<g id="n4a4b1" class="p"><rect x="242" y="3377" width="260" height="106" rx="5"/><text><tspan x="248" y="3395.5">经过上学期的.词汇复习和检查监督，大部分</tspan><tspan x="248" dy="16">学生已经具备一定量的单词库，在做题的时候</tspan><tspan x="248" dy="16">能看懂读懂一定难度的文章，在阅读理解的测</tspan><tspan x="248" dy="16">试当中也能得到相对于之前更高的分数。本学</tspan><tspan x="248" dy="16">期仍然继续强化单词的巩固过程，并尽量让学</tspan><tspan x="248" dy="16">生掌握课标当中词汇的拼写。</tspan></text></g>
<g id="n4a4c" class="p"><rect x="502" y="3568" width="127" height="27" rx="5"/><text x="508" y="3586.5">(3)听力训练常抓不懈</text></g>
<g id="n4a4c1" class="p"><rect x="217" y="3512" width="260" height="138" rx="5"/><text><tspan x="223" y="3530.5">高考英语听力分值是30分，这在试卷中占了</tspan><tspan x="223" dy="16">相当大的比例。要得高分，这就要求学生平时</tspan><tspan x="223" dy="16">多练习英语，多做听力练习，学生经过半年来</tspan><tspan x="223" dy="16">不懈的训练，听力水平有较大程度的提高，本</tspan><tspan x="223" dy="16">学期的听力仍每周至少4练，周二周四周五午</tspan><tspan x="223" dy="16">段统一播放，在课堂上也需加强对听力的教法</tspan><tspan x="223" dy="16">指导。听力资料仍采用《听力宝典》上的听力</tspan><tspan x="223" dy="16">和《英语周报》的听力。</tspan></text></g>
<g id="n4b" class="p"><rect x="773" y="3720" width="109" height="27" rx="5"/><text x="779" y="3738.5">二、教学研究计划</text></g>
<g id="n4b1" class="p"><rect x="486" y="3680" width="260" height="106" rx="5"/><text><tspan x="492" y="3698.5">积极参加本学期教研组里举行的说课等活动，</tspan><tspan x="492" dy="16">作为高三备课组的组长，本学期将加大备课组</tspan><tspan x="492" dy="16">活动，将各个模块的复习工作进行较为深入系</tspan><tspan x="492" dy="16">统的探讨，针对学生的现状研究教法学法，加</tspan><tspan x="492" dy="16">强同备课组的听课与互相学习，做好对新教师</tspan><tspan x="492" dy="16">的帮带工作。</tspan></text></g>
<g id="n4c" class="p"><rect x="773" y="3856" width="109" height="27" rx="5"/><text x="779" y="3874.5">三、继续教育计划</text></g>
<g id="n4c1" class="p"><rect x="486" y="3816" width="260" height="106" rx="5"/><text><tspan x="492" y="3834.5">密切关注高考英语学科的最新动态，及时给学</tspan><tspan x="492" dy="16">生传递有用的信息，在教育教学此文转自过程</tspan><tspan x="492" dy="16">中，不断丰富自身学识，努力提高自身能力、</tspan><tspan x="492" dy="16">业务水平。参加教师业务培训活动，从中汲取</tspan><tspan x="492" dy="16">营养，树立终身学习的观念，利用现代网络技</tspan><tspan x="492" dy="16">术努力充电，提高自己的专业素养。</tspan></text></g>
</g>

<g id="watermarks" class="wm" text-anchor="middle">
<text transform="translate(645 560) rotate(-32)">树图 shutu.cn</text>
<text transform="translate(1925 560) rotate(-32)">树图 shutu.cn</text>
<text transform="translate(645 1560) rotate(-32)">树图 shutu.cn</text>
<text transform="translate(1925 1560) rotate(-32)">树图 shutu.cn</text>
<text transform="translate(645 2560) rotate(-32)">树图 shutu.cn</text>
<text transform="translate(1925 2560) rotate(-32)">树图 shutu.cn</text>
<text transform="translate(645 3560) rotate(-32)">树图 shutu.cn</text>
<text transform="translate(1925 3560) rotate(-32)">树图 shutu.cn</text>
<text transform="translate(645 4560) rotate(-32)">树图 shutu.cn</text>
<text transform="translate(1925 4560) rotate(-32)">树图 shutu.cn</text>
<text transform="translate(645 5560) rotate(-32)">树图 shutu.cn</text>
<text transform="translate(1925 5560) rotate(-32)">树图 shutu.cn</text>
</g>
</g>
</svg>
